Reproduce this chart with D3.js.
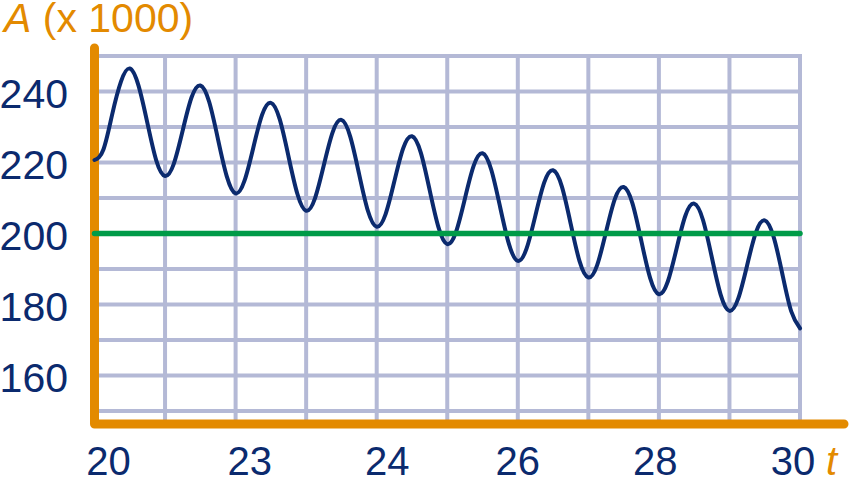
<!DOCTYPE html>
<html>
<head>
<meta charset="utf-8">
<script src="https://cdn.jsdelivr.net/npm/d3@7"></script>
<style>
  html, body { margin: 0; padding: 0; background: #ffffff; }
  svg { display: block; }
  text { font-family: "Liberation Sans", Arial, Helvetica, sans-serif; }
</style>
</head>
<body>
<svg id="chart" width="850" height="478"></svg>
<script>
// ---- data ----
const yTicks = [160, 180, 200, 220, 240];
const yGrid = [150, 160, 170, 180, 190, 200, 210, 220, 230, 240, 250];
const xGrid = [20, 21, 22, 23, 24, 25, 26, 27, 28, 29, 30];
const xTickLabels = ["20", "23", "24", "26", "28", "30"];
const xTickPositions = [20.2, 22.2, 24.15, 26, 27.95, 29.9];
const referenceLevel = 200;
const tValues = [
  20.000, 20.125, 20.250, 20.375, 20.500, 20.625, 20.750, 20.875,
  21.000, 21.125, 21.250, 21.375, 21.500, 21.625, 21.750, 21.875,
  22.000, 22.125, 22.250, 22.375, 22.500, 22.625, 22.750, 22.875,
  23.000, 23.125, 23.250, 23.375, 23.500, 23.625, 23.750, 23.875,
  24.000, 24.125, 24.250, 24.375, 24.500, 24.625, 24.750, 24.875,
  25.000, 25.125, 25.250, 25.375, 25.500, 25.625, 25.750, 25.875,
  26.000, 26.125, 26.250, 26.375, 26.500, 26.625, 26.750, 26.875,
  27.000, 27.125, 27.250, 27.375, 27.500, 27.625, 27.750, 27.875,
  28.000, 28.125, 28.250, 28.375, 28.500, 28.625, 28.750, 28.875,
  29.000, 29.125, 29.250, 29.375, 29.500, 29.625, 29.750, 29.875,
  30.000
];
const aValues = [
  220.7, 223.6, 233.5, 242.8, 246.5, 241.6, 231.1, 220.6,
  216.2, 219.7, 229.0, 238.3, 241.7, 237.1, 226.6, 216.1,
  211.3, 214.8, 224.1, 233.4, 236.8, 232.2, 221.7, 211.2,
  206.4, 209.9, 219.2, 228.5, 232.0, 227.3, 216.8, 206.4,
  201.9, 205.4, 214.7, 224.0, 227.4, 222.8, 212.3, 201.8,
  197.0, 200.5, 209.8, 219.1, 222.6, 217.9, 207.4, 197.0,
  192.3, 195.8, 205.1, 214.4, 217.8, 213.2, 202.7, 192.2,
  187.6, 191.1, 200.4, 209.7, 213.1, 208.5, 198.0, 187.5,
  182.9, 186.4, 195.7, 205.0, 208.4, 203.8, 193.3, 182.8,
  178.2, 181.7, 191.0, 200.3, 203.7, 199.1, 188.6, 178.1,
  173.3
];

// ---- styles ----
const ORANGE = "#e38a00";
const NAVY = "#0b2a6e";
const GRID = "#b4b9d6";
const GREEN = "#009b48";

const svg = d3.select("#chart");
const x = d3.scaleLinear().domain([20, 30]).range([94.5, 800]);
const y = d3.scaleLinear().domain([150, 250]).range([411, 56]);
const axisY = 424;

// grid
const g = svg.append("g");
g.selectAll("line.h").data(yGrid).join("line")
  .attr("x1", x(20)).attr("x2", x(30))
  .attr("y1", d => y(d)).attr("y2", d => y(d))
  .attr("stroke", GRID).attr("stroke-width", 4);
g.selectAll("line.v").data(xGrid).join("line")
  .attr("x1", d => x(d)).attr("x2", d => x(d))
  .attr("y1", y(250) - 2).attr("y2", axisY)
  .attr("stroke", GRID).attr("stroke-width", 4);

// axes (orange L)
svg.append("path")
  .attr("d", d3.line()([[x(20), 48], [x(20), axisY], [844, axisY]]))
  .attr("fill", "none").attr("stroke", ORANGE).attr("stroke-width", 9)
  .attr("stroke-linecap", "round").attr("stroke-linejoin", "round");

// curve
const pts = tValues.map((t, i) => [t, aValues[i]]);
svg.append("path")
  .datum(pts)
  .attr("d", d3.line().x(d => x(d[0])).y(d => y(d[1])).curve(d3.curveNatural))
  .attr("fill", "none").attr("stroke", NAVY).attr("stroke-width", 4)
  .attr("stroke-linecap", "round");

// reference line
svg.append("line")
  .attr("x1", x(20)).attr("x2", x(30))
  .attr("y1", y(referenceLevel)).attr("y2", y(referenceLevel))
  .attr("stroke", GREEN).attr("stroke-width", 5.5).attr("stroke-linecap", "round");

// y tick labels
svg.selectAll("text.yl").data(yTicks).join("text")
  .attr("x", 68).attr("y", d => y(d) + 16)
  .attr("text-anchor", "end")
  .attr("font-size", 41).attr("fill", NAVY)
  .text(d => d);

// x tick labels
svg.selectAll("text.xl").data(xTickLabels).join("text")
  .attr("x", (d, i) => x(xTickPositions[i]))
  .attr("y", 475)
  .attr("text-anchor", "middle")
  .attr("font-size", 40).attr("fill", NAVY)
  .text(d => d);

// axis titles
svg.append("text").attr("x", 826).attr("y", 475)
  .attr("font-size", 40).attr("font-style", "italic").attr("fill", ORANGE).text("t");
const title = svg.append("text").attr("x", 4).attr("y", 32)
  .attr("font-size", 41).attr("fill", ORANGE);
title.append("tspan").attr("font-style", "italic").text("A");
title.append("tspan").text(" (x 1000)");
</script>
</body>
</html>
